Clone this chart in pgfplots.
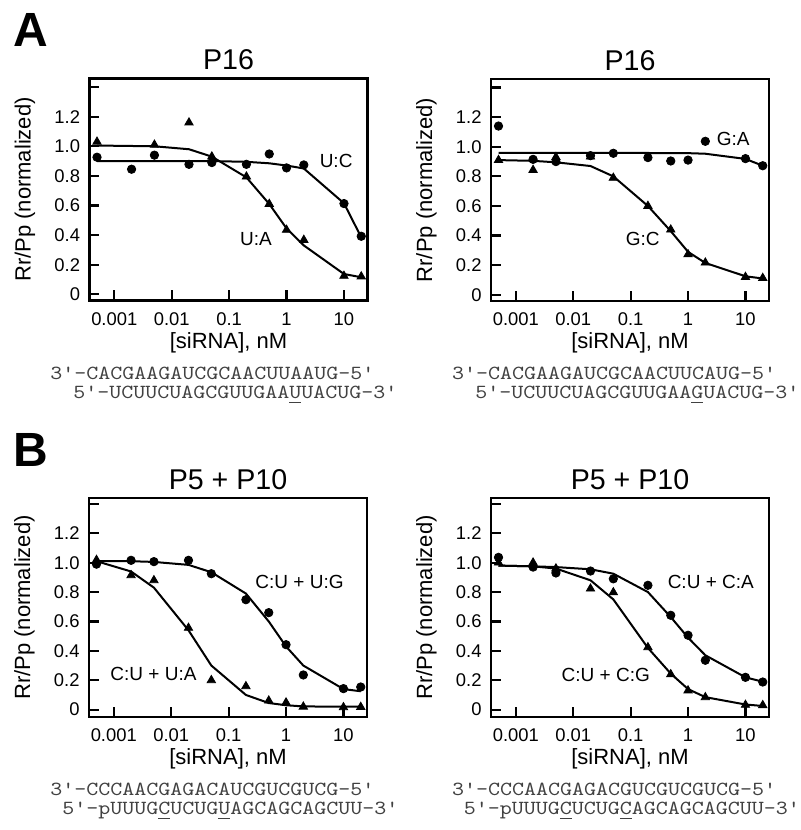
\documentclass[border=0pt]{standalone}
\usepackage{fontspec}
\setmainfont{Liberation Sans}
\usepackage{graphicx}
\usepackage{pgfplots}
\pgfplotsset{compat=1.18}
\definecolor{seqgray}{RGB}{65,65,65}
\pgfplotsset{
 panel/.style={
  scale only axis,
  width=139pt,
  xmin=3.7e-4, xmax=25.7,
  xtick={0.001,0.01,0.1,1,10},
  xticklabels={0.001,0.01,0.1,1,10},
  xminorticks=false,
  ytick={0,0.2,0.4,0.6,0.8,1.0,1.2,1.4},
  yticklabels={0,0.2,0.4,0.6,0.8,1.0,1.2,{}},
  xtick pos=bottom, ytick pos=left,
  tick align=inside,
  major tick length=5pt,
  every tick/.style={black, line width=1.1pt},
  axis line style={line width=1.1pt},
  tick label style={font=\fontsize{9.2}{10}\selectfont},
  /pgf/number format/assume math mode=true,
  xticklabel style={yshift=-2.5pt},
  yticklabel style={xshift=-1.2pt},
  label style={font=\fontsize{11}{13}\selectfont},
  xlabel={[siRNA], nM},
  ylabel={Rr/Pp (normalized)},
  xlabel style={at={(axis description cs:0.5,0)}, anchor=center, yshift=-21pt},
  ylabel style={at={(axis description cs:0,0.5)}, anchor=center, yshift=32.25pt},
  clip=false,
 },
 rowA/.style={height=111pt, ymin=-0.042, ymax=1.458},
 rowB/.style={height=109.5pt, ymin=-0.05, ymax=1.44},
 fitline/.style={black, line width=1pt, no marks},
 circ/.style={only marks, mark=*, mark size=2.1pt, black},
 tri/.style={only marks, mark=triangle*, mark size=2.4pt, black},
}
\tikzset{ttl/.style={anchor=base, inner sep=0, font=\fontsize{14.3}{16}\selectfont, yshift=4.4pt}}
\newcommand{\ann}{\fontsize{9.5}{11}\selectfont}
\newcommand{\seq}{\ttfamily\fontsize{10}{12}\selectfont\color{seqgray}}
\newcommand{\sq}[1]{\scalebox{1.143}[1]{#1}}
\begin{document}
\begin{tikzpicture}
\useasboundingbox (0,0) rectangle (400pt,415pt);
% big letters
\node[anchor=base west, inner sep=0, font=\fontsize{24}{28}\selectfont\bfseries] at (6.3pt,391.6pt) {A};
\node[anchor=base west, inner sep=0, font=\fontsize{24}{28}\selectfont\bfseries] at (6.5pt,181.6pt) {B};

% ---------- A left ----------
\begin{semilogxaxis}[panel, rowA, at={(44.75pt,264.75pt)}, anchor=south west]
\addplot[fitline] coordinates {(0.0005,0.90)(0.002,0.90)(0.005,0.90)(0.02,0.90)(0.05,0.90)(0.2,0.895)(0.5,0.885)(1,0.87)(2,0.85)(10,0.615)(20,0.385)};
\addplot[fitline] coordinates {(0.0005,1.005)(0.005,1.0)(0.02,0.98)(0.05,0.93)(0.2,0.79)(0.5,0.61)(1,0.445)(2,0.33)(10,0.137)(20,0.115)};
\addplot[circ] coordinates {(0.0005,0.926)(0.002,0.845)(0.005,0.94)(0.02,0.878)(0.05,0.89)(0.2,0.878)(0.5,0.948)(1,0.854)(2,0.874)(10,0.613)(20,0.392)};
\addplot[tri] coordinates {(0.0005,1.03)(0.005,1.01)(0.02,1.16)(0.05,0.93)(0.2,0.795)(0.5,0.61)(1,0.435)(2,0.367)(10,0.124)(20,0.12)};
\node[font=\ann] at (axis cs:7.3,0.90) {U:C};
\node[font=\ann] at (axis cs:0.294,0.374) {U:A};
\node[ttl] at (rel axis cs:0.5,1) {P16};
\end{semilogxaxis}

% ---------- A right ----------
\begin{semilogxaxis}[panel, rowA, at={(245.5pt,264.5pt)}, anchor=south west]
\addplot[fitline] coordinates {(0.0005,0.958)(0.05,0.958)(0.2,0.958)(1,0.957)(2,0.953)(10,0.918)(20,0.872)};
\addplot[fitline] coordinates {(0.0005,0.91)(0.002,0.905)(0.005,0.895)(0.02,0.87)(0.05,0.80)(0.2,0.60)(0.5,0.43)(1,0.29)(2,0.215)(10,0.125)(20,0.11)};
\addplot[circ] coordinates {(0.0005,1.14)(0.002,0.915)(0.005,0.90)(0.02,0.94)(0.05,0.956)(0.2,0.927)(0.5,0.904)(1,0.91)(2,1.037)(10,0.92)(20,0.872)};
\addplot[tri] coordinates {(0.0005,0.91)(0.002,0.843)(0.005,0.93)(0.02,0.933)(0.05,0.79)(0.2,0.60)(0.5,0.44)(1,0.273)(2,0.217)(10,0.12)(20,0.113)};
\node[font=\ann] at (axis cs:6.1,1.056) {G:A};
\node[font=\ann] at (axis cs:0.163,0.38) {G:C};
\node[ttl] at (rel axis cs:0.5,1) {P16};
\end{semilogxaxis}

% ---------- B left ----------
\begin{semilogxaxis}[panel, rowB, at={(44.5pt,56.5pt)}, anchor=south west]
\addplot[fitline] coordinates {(0.0005,1.01)(0.002,1.01)(0.005,1.005)(0.02,0.985)(0.05,0.935)(0.2,0.79)(0.5,0.60)(1,0.43)(2,0.30)(10,0.14)(20,0.125)};
\addplot[fitline] coordinates {(0.0005,1.01)(0.002,0.94)(0.005,0.83)(0.02,0.54)(0.05,0.30)(0.2,0.10)(0.5,0.045)(1,0.03)(2,0.022)(10,0.02)(20,0.02)};
\addplot[circ] coordinates {(0.0005,0.99)(0.002,1.016)(0.005,1.007)(0.02,1.016)(0.05,0.925)(0.2,0.748)(0.5,0.66)(1,0.442)(2,0.236)(10,0.143)(20,0.154)};
\addplot[tri] coordinates {(0.0005,1.018)(0.002,0.914)(0.005,0.88)(0.02,0.556)(0.05,0.20)(0.2,0.159)(0.5,0.061)(1,0.048)(2,0.02)(10,0.016)(20,0.018)};
\node[font=\ann] at (axis cs:1.72,0.871) {C:U + U:G};
\node[font=\ann] at (axis cs:0.00492,0.241) {C:U + U:A};
\node[ttl] at (rel axis cs:0.5,1) {P5 + P10};
\end{semilogxaxis}

% ---------- B right ----------
\begin{semilogxaxis}[panel, rowB, at={(245.5pt,56.5pt)}, anchor=south west]
\addplot[fitline] coordinates {(0.0005,0.98)(0.002,0.975)(0.005,0.97)(0.02,0.955)(0.05,0.925)(0.2,0.80)(0.5,0.63)(1,0.49)(2,0.37)(10,0.22)(20,0.19)};
\addplot[fitline] coordinates {(0.0005,0.98)(0.002,0.975)(0.005,0.96)(0.02,0.88)(0.05,0.75)(0.2,0.42)(0.5,0.245)(1,0.14)(2,0.085)(10,0.035)(20,0.025)};
\addplot[circ] coordinates {(0.0005,1.036)(0.002,0.97)(0.005,0.93)(0.02,0.943)(0.05,0.89)(0.2,0.846)(0.5,0.642)(1,0.506)(2,0.336)(10,0.22)(20,0.188)};
\addplot[tri] coordinates {(0.0005,1.0)(0.002,1.0)(0.005,0.96)(0.02,0.823)(0.05,0.798)(0.2,0.424)(0.5,0.24)(1,0.13)(2,0.084)(10,0.032)(20,0.03)};
\node[font=\ann] at (axis cs:2.49,0.867) {C:U + C:A};
\node[font=\ann] at (axis cs:0.0369,0.236) {C:U + C:G};
\node[ttl] at (rel axis cs:0.5,1) {P5 + P10};
\end{semilogxaxis}

% ---------- sequences ----------
\node[anchor=base west, inner sep=0, font=\seq] at (25pt,225pt) {\sq{3'-CACGAAGAUCGCAACUUAAUG-5'}};
\node[anchor=base west, inner sep=0, font=\seq] at (36.5pt,215.5pt) {\sq{5'-UCUUCUAGCGUUGAA\underline{U}UACUG-3'}};
\node[anchor=base west, inner sep=0, font=\seq] at (225.8pt,225pt) {\sq{3'-CACGAAGAUCGCAACUUCAUG-5'}};
\node[anchor=base west, inner sep=0, font=\seq] at (237.5pt,215.5pt) {\sq{5'-UCUUCUAGCGUUGAA\underline{G}UACUG-3'}};
\node[anchor=base west, inner sep=0, font=\seq] at (25pt,17pt) {\sq{3'-CCCAACGAGACAUCGUCGUCG-5'}};
\node[anchor=base west, inner sep=0, font=\seq] at (31pt,7.5pt) {\sq{5'-pUUUG\underline{C}UCUG\underline{U}AGCAGCAGCUU-3'}};
\node[anchor=base west, inner sep=0, font=\seq] at (225.8pt,17pt) {\sq{3'-CCCAACGAGACGUCGUCGUCG-5'}};
\node[anchor=base west, inner sep=0, font=\seq] at (231.7pt,7.5pt) {\sq{5'-pUUUG\underline{C}UCUG\underline{C}AGCAGCAGCUU-3'}};
\end{tikzpicture}
\end{document}
